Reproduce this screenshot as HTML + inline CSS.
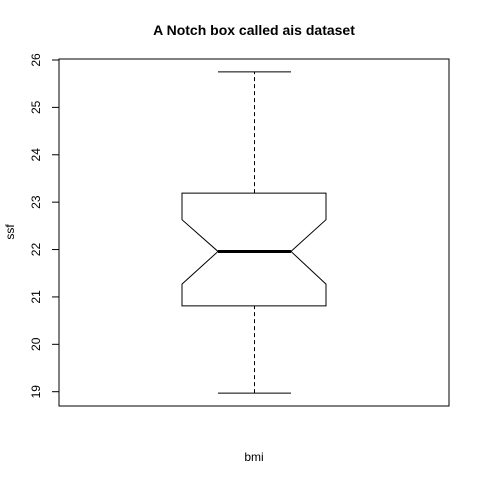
<!DOCTYPE html>
<html><head><meta charset="utf-8"><style>body{margin:0;background:#fff}svg{display:block;font-family:"Liberation Sans",sans-serif}</style></head>
<body>
<svg id="c" width="480" height="480">
<text x="254" y="35" text-anchor="middle" font-size="14" font-weight="bold">A Notch box called ais dataset</text>
<text x="254" y="461" text-anchor="middle" font-size="12">bmi</text>
<text transform="translate(14,232) rotate(-90)" text-anchor="middle" font-size="12">ssf</text>
<rect x="59" y="59" width="390" height="347" fill="none" stroke="#000"/>
<g id="ax"></g><g id="box"></g>
</svg>
<script>
const yTicks=[19,20,21,22,23,24,25,26];
const stats=[18.97,20.81,21.96,23.19,25.75];
const notch=[21.27,22.63];
const y=v=>391.7-(v-19)*(391.7-60)/7;
const ns="http://www.w3.org/2000/svg";
function mk(p,t,a){const e=document.createElementNS(ns,t);for(const k in a)e.setAttribute(k,a[k]);p.appendChild(e);return e;}
const ax=document.getElementById('ax');
yTicks.forEach(v=>{
 const l=mk(ax,'line',{x1:52,x2:59,y1:y(v),y2:y(v),stroke:'#000'});
 
 
 const t=mk(ax,'text',{transform:`translate(40,${y(v)}) rotate(-90)`,'text-anchor':'middle','font-size':12});
 t.textContent=v;
 
 
});
const b=document.getElementById('box');
const L=182,R=326,IL=218,IR=291,C=254.5;
const w1=mk(b,'line',{x1:C,x2:C,y1:y(stats[0]),y2:y(stats[1]),stroke:'#000','stroke-dasharray':'4,3'});


const w2=mk(b,'line',{x1:C,x2:C,y1:y(stats[3]),y2:y(stats[4]),stroke:'#000','stroke-dasharray':'4,3'});


const c1=mk(b,'line',{x1:IL,x2:IR,y1:y(stats[0]),y2:y(stats[0]),stroke:'#000'});


const c2=mk(b,'line',{x1:IL,x2:IR,y1:y(stats[4]),y2:y(stats[4]),stroke:'#000'});


const pts=[[L,y(stats[1])],[L,y(notch[0])],[IL,y(stats[2])],[L,y(notch[1])],[L,y(stats[3])],[R,y(stats[3])],[R,y(notch[1])],[IR,y(stats[2])],[R,y(notch[0])],[R,y(stats[1])]];
const p=mk(b,'polygon',{points:pts.map(q=>q.join(',')).join(' '),fill:'none',stroke:'#000'});


const m=mk(b,'line',{x1:IL,x2:IR,y1:y(stats[2]),y2:y(stats[2]),stroke:'#000','stroke-width':3});


</script>
</body></html>
